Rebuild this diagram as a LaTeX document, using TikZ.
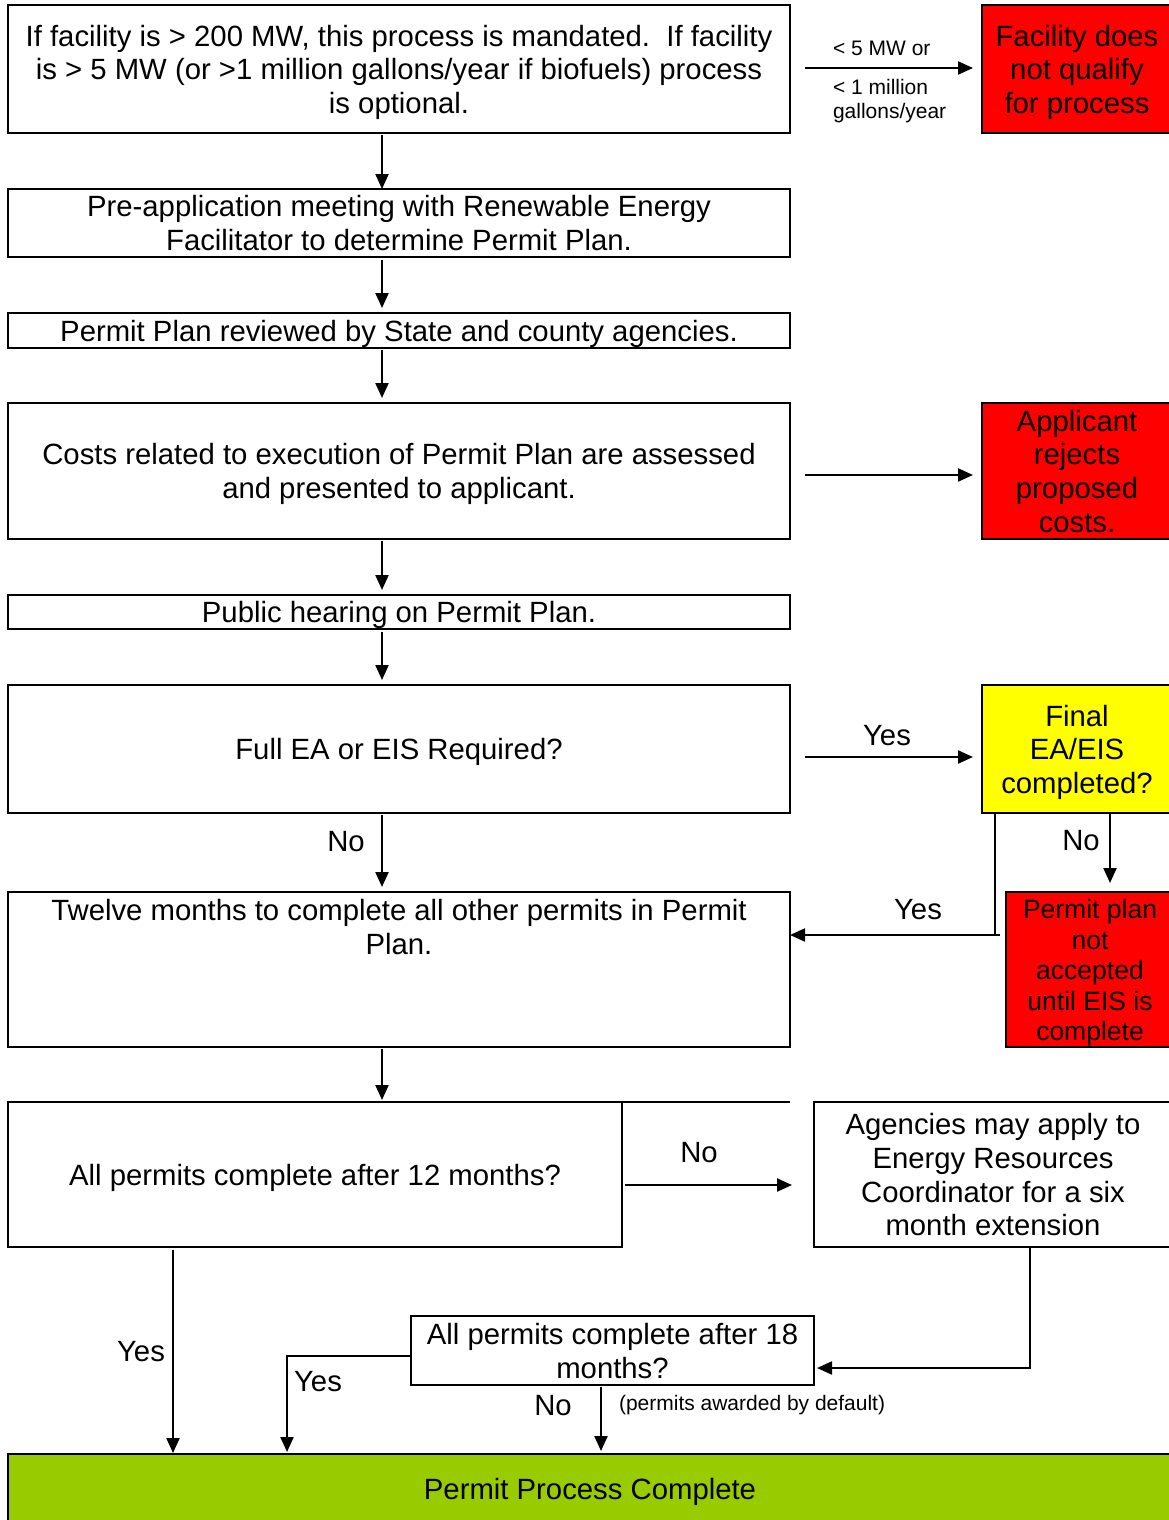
\documentclass[tikz,border=0pt]{standalone}
\usepackage{fontspec}
\setmainfont{Liberation Sans}
\usetikzlibrary{arrows.meta,calc}
\definecolor{boxred}{HTML}{FF0000}
\definecolor{boxyellow}{HTML}{FFFF00}
\definecolor{boxgreen}{HTML}{99CC00}
\newcommand\tstrtop{\rule{0pt}{0.95em}}
\newcommand\tstrbot{\rule[-0.212em]{0pt}{0pt}}
\newcommand\tstrtopb{\rule{0pt}{1.14em}}
\begin{document}
\begin{tikzpicture}[x=1pt,y=-1pt,
  every node/.style={inner sep=0pt,outer sep=0pt},
  box/.style={draw=black,line width=2pt},
  redbox/.style={box,fill=boxred},
  yellowbox/.style={box,fill=boxyellow},
  greenbox/.style={box,fill=boxgreen},
  txt/.style={align=center,font=\fontsize{29.3}{33.7}\selectfont},
  lbl/.style={font=\fontsize{29.3}{33.7}\selectfont},
  smalllbl/.style={font=\fontsize{21}{24}\selectfont,align=left},
  redtext/.style={font=\fontsize{26.5}{30.5}\selectfont,align=center},
  arr/.style={line width=2.2pt,-{Triangle[length=15pt,width=13pt]}},
  ln/.style={line width=2.2pt}]
\clip (0,0) rectangle (1169,1520);
\fill[white] (0,0) rectangle (1169,1520);
\coordinate (cx) at (382,0);

% boxes
\node[box,minimum width=782,minimum height=128] (b1) at (399,69) {};
\node[box,minimum width=782,minimum height=68] (b2) at (399,223) {};
\node[box,minimum width=782,minimum height=35] (b3) at (399,330.5) {};
\node[box,minimum width=782,minimum height=136] (b4) at (399,471) {};
\node[box,minimum width=782,minimum height=34] (b5) at (399,612) {};
\node[box,minimum width=782,minimum height=128] (b6) at (399,749) {};
\node[box,minimum width=782,minimum height=155] (b7) at (399,969.5) {};
\node[box,minimum width=614,minimum height=145] (b8) at (315,1174.5) {};
\draw[line width=2pt] (b8.north east) -- (790,1102);
\node[box,minimum width=358,minimum height=145] (b9) at (993,1174.5) {};
\node[box,minimum width=403,minimum height=69] (b10) at (612.5,1350.5) {};
\node[greenbox,minimum width=1164,minimum height=70] (g) at (590,1489) {};
\node[redbox,minimum width=190,minimum height=128] (r1) at (1077,69) {};
\node[redbox,minimum width=190,minimum height=136] (r2) at (1077,471) {};
\node[yellowbox,minimum width=190,minimum height=128] (y1) at (1077,749) {};
\node[redbox,minimum width=168,minimum height=155] (r3) at (1090,969.5) {};

% box texts
\node[txt] (b1t) at (b1.center)
  {\tstrtop If facility is > 200 MW, this process is mandated.\ \ If facility\\
   is > 5 MW (or >1 million gallons/year if biofuels) process\\is optional.\tstrbot};
\node[txt] (b2t) at (b2.center)
  {\tstrtop Pre-application meeting with Renewable Energy\\Facilitator to determine Permit Plan.\tstrbot};
\node[txt] (b3t) at (b3.center)
  {\tstrtop Permit Plan reviewed by State and county agencies.\tstrbot};
\node[txt] (b4t) at (b4.center)
  {\tstrtop Costs related to execution of Permit Plan are assessed\\and presented to applicant.\tstrbot};
\node[txt] (b5t) at (b5.center)
  {\tstrtop Public hearing on Permit Plan.\tstrbot};
\node[txt] (b6t) at (b6.center)
  {\tstrtop Full EA or EIS Required?\tstrbot};
\node[txt] (b7t) at (399,924)
  {\tstrtopb Twelve months to complete all other permits in Permit\\Plan.\tstrbot};
\node[txt] (b8t) at (b8.center)
  {\tstrtop All permits complete after 12 months?\tstrbot};
\node[txt] (b9t) at (b9.center)
  {\tstrtop Agencies may apply to\\Energy Resources\\Coordinator for a six\\month extension\tstrbot};
\node[txt] (b10t) at (b10.center)
  {\tstrtop All permits complete after 18\\months?\tstrbot};
\node[txt] (gt) at (g.center)
  {\tstrtop Permit Process Complete\tstrbot};
\node[txt] (r1t) at (r1.center)
  {\tstrtop Facility does\\not qualify\\for process\tstrbot};
\node[txt] (r2t) at (r2.center)
  {\tstrtop Applicant\\rejects\\proposed\\costs.\tstrbot};
\node[txt] (y1t) at (y1.center)
  {\tstrtop Final\\EA/EIS\\completed?\tstrbot};
\node[redtext] (r3t) at (1090,973)
  {Permit plan\\not\\accepted\\until EIS is\\complete};

% main vertical arrows
\draw[arr] ($(b1.south -| cx)+(0,2)$) -- (b2.north -| cx);
\draw[arr] ($(b2.south -| cx)+(0,3)$) -- ($(b3.north -| cx)+(0,-5)$);
\draw[arr] ($(b3.south -| cx)+(0,2)$) -- ($(b4.north -| cx)+(0,-5)$);
\draw[arr] ($(b4.south -| cx)+(0,2)$) -- ($(b5.north -| cx)+(0,-5)$);
\draw[arr] ($(b5.south -| cx)+(0,3)$) -- ($(b6.north -| cx)+(0,-5)$);
\draw[arr] ($(b6.south -| cx)+(0,2)$) -- ($(b7.north -| cx)+(0,-5)$);
\node[lbl] (lno1) at (346,842) {No};
\draw[arr] ($(b7.south -| cx)+(0,2)$) -- ($(b8.north -| cx)+(0,-2)$);

% right arrows
\draw[arr] ($(b1.east)+(15,-1)$) -- ($(r1.west)+(-9,-1)$);
\node[smalllbl,anchor=west] (l5mw) at (833,48) {< 5 MW or};
\node[smalllbl,anchor=north west] (l1m) at (833,79) {< 1 million\\gallons/year};
\draw[arr] ($(b4.east)+(15,4)$) -- ($(r2.west)+(-9,4)$);
\draw[arr] ($(b6.east)+(15,8)$) -- ($(y1.west)+(-9,8)$);
\node[lbl] (lyes1) at (887,736) {Yes};
\draw[ln] (y1.south -| 995,0) -- (995,935);
\draw[arr] (1000,935) -- (b7.east |- 0,935);
\node[lbl] (lyes2) at (918,910) {Yes};
\draw[arr] (y1.south -| 1110,0) -- ($(r3.north -| 1110,0)+(0,-9)$);
\node[lbl] (lno2) at (1081,841) {No};

% bottom section
\draw[arr] ($(b8.east)+(3,10.5)$) -- ($(b9.west)+(-22,10.5)$);
\node[lbl] (lno3) at (699,1153) {No};
\draw[arr] (b9.south -| 1030,0) |- ($(b10.east)+(3,17.5)$);
\draw[arr] (b10.west |- 0,1356) -| (287,1452);
\node[lbl] (lyes3) at (318,1382) {Yes};
\draw[arr] ($(b8.south -| 173,0)+(0,3)$) -- ($(g.north -| 173,0)+(0,-1)$);
\node[lbl] (lyes4) at (141,1352) {Yes};
\draw[arr] ($(b10.south -| 601,0)+(0,2)$) -- ($(g.north -| 601,0)+(0,-3)$);
\node[lbl] (lno4) at (553,1406) {No};
\node[smalllbl,anchor=west] (ldef) at (619,1405) {(permits awarded by default)};
\end{tikzpicture}
\end{document}
